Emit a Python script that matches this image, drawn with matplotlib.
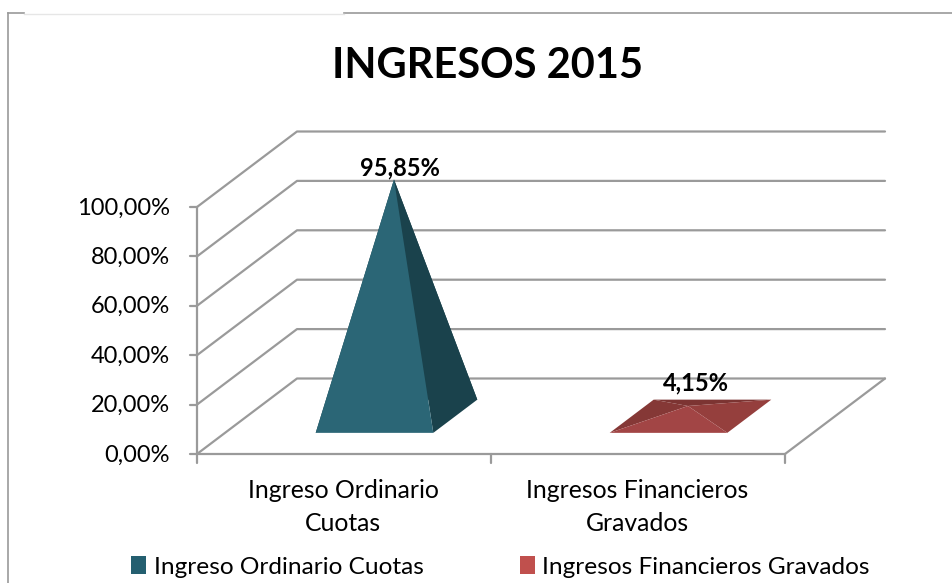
import matplotlib
matplotlib.use("Agg")
import matplotlib.pyplot as plt
from matplotlib.lines import Line2D
from matplotlib.patches import Patch, Polygon

plt.rcParams['font.family'] = ['Lato', 'DejaVu Sans']

W, H = 953, 583

title = "INGRESOS 2015"
categories = ["Ingreso Ordinario\nCuotas", "Ingresos Financieros\nGravados"]
series_names = ["Ingreso Ordinario Cuotas", "Ingresos Financieros Gravados"]
values = [95.85, 4.15]
value_labels = ["95,85%", "4,15%"]
y_ticks = [0, 20, 40, 60, 80, 100]
y_tick_labels = ["0,00%", "20,00%", "40,00%", "60,00%", "80,00%", "100,00%"]

GREY = "#9a9a9a"
LEGEND_COLORS = ["#245f70", "#c0504d"]
# faces: front, right, left, back
FACES = [
    ("#2b6676", "#1a424c", "#1a424c", "#1a424c"),
    ("#a24545", "#953f3d", "#853836", "#7c3432"),
]

# pixel scale of the 3d box
PX_X = 294.0    # px per category
PX_Y = 2.47     # px per percent
X0, Y0 = 197, 454
DEPTH_X = 100 / PX_X
DEPTH_Y = 75.5 / PX_Y


def proj(x, y, d=0.0):
    """category position, value, depth (0 front..1 back) -> 2d data coords"""
    return x + d * DEPTH_X, y + d * DEPTH_Y


fig = plt.figure(figsize=(W / 100, H / 100), dpi=100)
ax = fig.add_axes([0, 0, 1, 1])
ax.set_xlim(-X0 / PX_X, (W - X0) / PX_X)
ax.set_ylim(-(H - Y0) / PX_Y, Y0 / PX_Y)
ax.axis("off")

# outer frame of the chart area
frame = dict(color=GREY, lw=1.2, transform=fig.transFigure)
fig.add_artist(Line2D([8 / W, 8 / W], [0, 1 - 13 / H], **frame))
fig.add_artist(Line2D([8 / W, 24 / W], [1 - 13 / H, 1 - 13 / H], **frame))
fig.add_artist(Line2D([344 / W, 1], [1 - 13 / H, 1 - 13 / H], **frame))
fig.add_artist(Line2D([24 / W, 344 / W], [1 - 14 / H, 1 - 14 / H], color="#e6e6e6", lw=1.0))

line = dict(color=GREY, lw=1.6, solid_capstyle="round", zorder=1)
n_cat = len(categories)

# gridlines: left wall diagonal + back wall
for t in y_ticks:
    pts = [proj(0, t), proj(0, t, 1), proj(n_cat, t, 1)]
    ax.plot([p[0] for p in pts], [p[1] for p in pts], **line)

# floor right edge
pts = [proj(n_cat, 0), proj(n_cat, 0, 1)]
ax.plot([p[0] for p in pts], [p[1] for p in pts], **line)

# axes and ticks
ax.plot([0, 0], [0, y_ticks[-1]], **line)
ax.plot([0, n_cat], [0, 0], **line)
for t, lab in zip(y_ticks, y_tick_labels):
    ax.plot([-7 / PX_X, 0], [t, t], **line)
    ax.text(-27 / PX_X, t - 0.4, lab, ha="right", va="center", fontsize=17, color="black")
for i in range(n_cat + 1):
    ax.plot([i, i], [0, -9 / PX_Y], **line)

for i, cat in enumerate(categories):
    ax.text(i + 0.5 - 1 / PX_X, -25 / PX_Y, cat, ha="center", va="top", fontsize=17.8,
            color="black", linespacing=1.55)

# pyramids
HALF = 0.2
D0, D1 = 0.28, 0.72
BASE_SHIFT = 2.5 / PX_X
for i, (v, lab) in enumerate(zip(values, value_labels)):
    c = i + 0.5
    fl = proj(c + BASE_SHIFT - HALF, 0, D0)
    fr = proj(c + BASE_SHIFT + HALF, 0, D0)
    br = proj(c + BASE_SHIFT + HALF, 0, D1)
    bl = proj(c + BASE_SHIFT - HALF, 0, D1)
    apex = proj(c, v, 0.5)
    front, right, left, back = FACES[i]
    ax.add_patch(Polygon([bl, br, apex], fc=back, ec="none", zorder=3))
    ax.add_patch(Polygon([fl, bl, apex], fc=left, ec="none", zorder=3))
    ax.add_patch(Polygon([fr, br, apex], fc=right, ec="none", zorder=4))
    ax.add_patch(Polygon([fl, fr, apex], fc=front, ec="none", zorder=5))
    lift = 0.2 if i == 0 else 4.6
    nudge = 6 if i == 0 else 8
    ax.text(apex[0] + nudge / PX_X, apex[1] + lift, lab,
            ha="center", va="bottom", fontsize=17, fontweight="bold", color="black", zorder=6)

ax.text(488 / W, 1 - 66 / H, title, transform=fig.transFigure, ha="center", va="center",
        fontsize=30, fontweight="bold", color="black")

handles = [Patch(fc=col, ec="none") for col in LEGEND_COLORS]
ax.legend(handles, series_names, loc="center", bbox_to_anchor=(500.5 / W, 1 - 567 / H),
          ncol=2, frameon=False, fontsize=17.6, handlelength=0.62, handleheight=0.7,
          handletextpad=0.3, columnspacing=3.95, borderpad=0, labelcolor="black")

fig.savefig("out.png", dpi=100)
